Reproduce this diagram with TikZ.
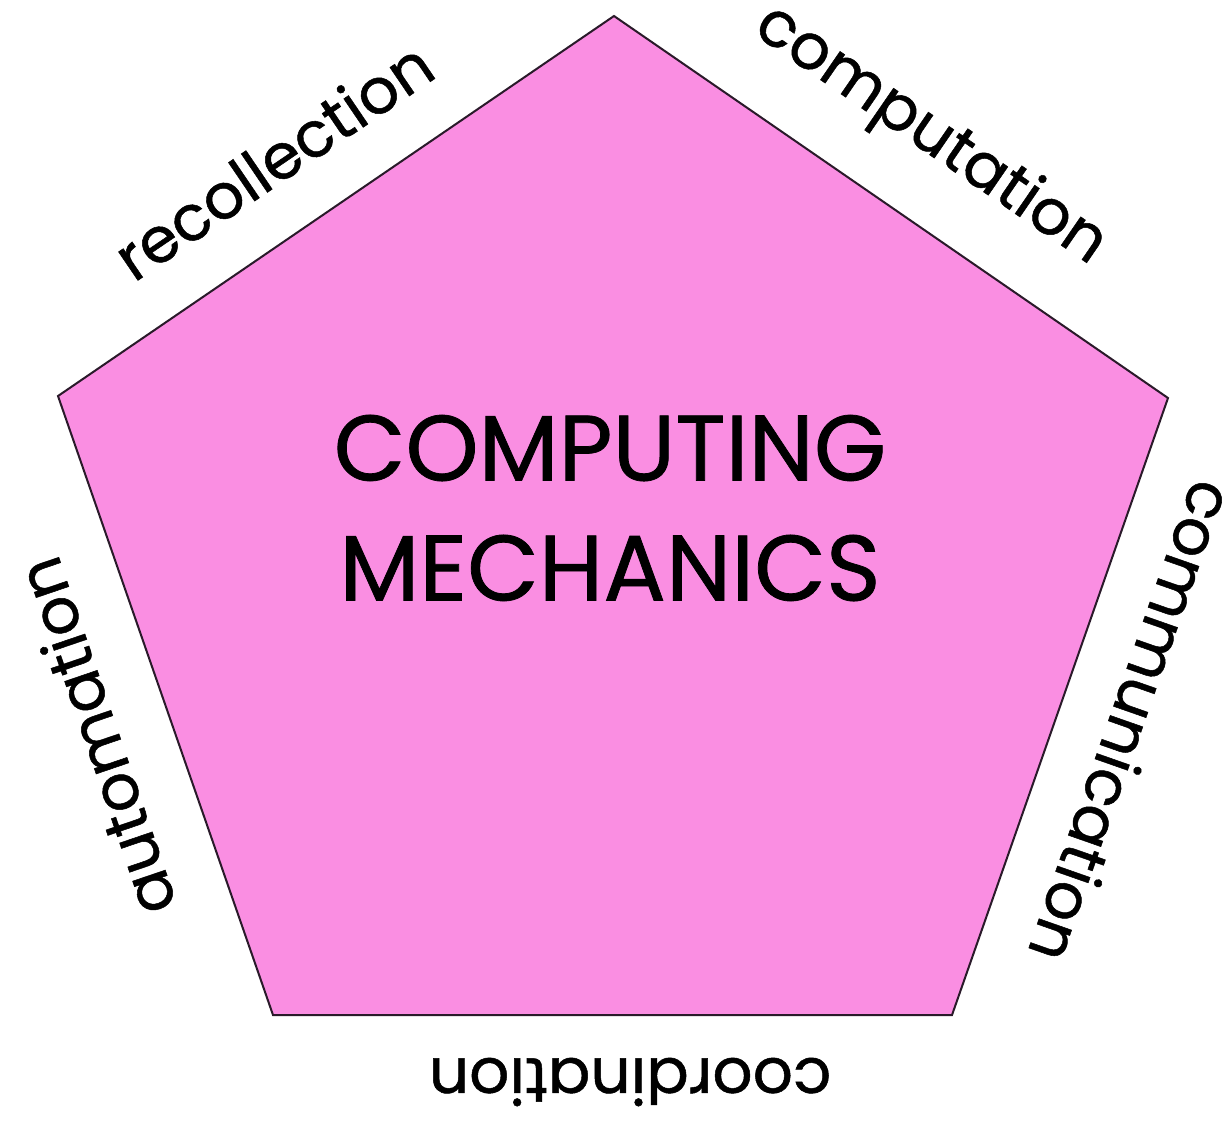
\documentclass[tikz,border=0pt]{standalone}
\usepackage{fontspec}
\setmainfont{Poppins}[FakeBold=0.8]
\definecolor{petal}{HTML}{FA8EE2}
\definecolor{rim}{HTML}{2A1A2A}
\begin{document}
\begin{tikzpicture}[x=0.5pt,y=-0.5pt,
  side/.style={font=\fontsize{31.5}{36}\selectfont, inner sep=0pt, anchor=center},
  title/.style={font=\fontsize{46.5}{60}\selectfont, align=center, inner sep=0pt}]
  \useasboundingbox (0,0) rectangle (1230,1130);
  % corners of the pentagon
  \coordinate (top) at (614,16);
  \coordinate (right) at (1168,398);
  \coordinate (lowright) at (952,1015);
  \coordinate (lowleft) at (273,1015);
  \coordinate (left) at (58,396);
  \draw[rim, line width=1pt, fill=petal, line join=miter]
    (top) -- (right) -- (lowright) -- (lowleft) -- (left) -- cycle;
  % central caption
  \node[title] (core) at (610,508) {COMPUTING\\MECHANICS};
  % labels along the sides, tops facing outward
  \node[side, rotate=34.2] (recollection) at (273,160) {recollection};
  \node[side, rotate=-34.5] (computation) at (930,136) {computation};
  \node[side, rotate=-109.3] (communication) at (1133,722) {communication};
  \node[side, rotate=180] (coordination) at (630,1082) {coordination};
  \node[side, rotate=108.8] (automation) at (95,737) {automation};
\end{tikzpicture}
\end{document}
